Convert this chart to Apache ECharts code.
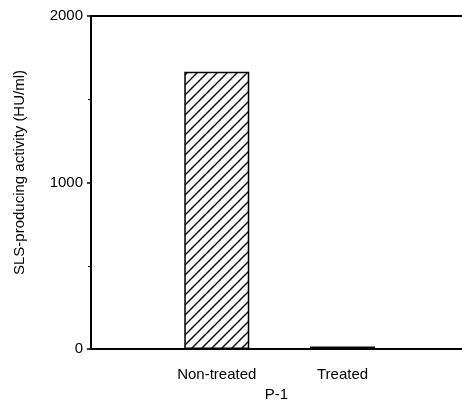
<!DOCTYPE html>
<html>
<head>
<meta charset="utf-8">
<script src="https://cdn.jsdelivr.net/npm/echarts@6/dist/echarts.min.js"></script>
<style>
  html, body { margin: 0; padding: 0; background: #fff; }
  #main { width: 462px; height: 403px; }
</style>
</head>
<body>
<div id="main"></div>
<script>
// 数据
var categories = ['Non-treated', 'Treated'];
var activity = [1665, 15];
var yTicks = [0, 1000, 2000];

var ink = '#000';
var font = 'Liberation Sans, Arial, sans-serif';

// 斜线填充
var makeHatch = function () {
    var c = document.createElement('canvas');
    c.width = 10;
    c.height = 10;
    var ctx = c.getContext('2d');
    ctx.fillStyle = '#fff';
    ctx.fillRect(0, 0, 10, 10);
    ctx.strokeStyle = ink;
    ctx.lineWidth = 1.4;
    ctx.beginPath();
    ctx.moveTo(-1, 11); ctx.lineTo(11, -1);
    ctx.moveTo(-1, 1); ctx.lineTo(1, -1);
    ctx.moveTo(9, 11); ctx.lineTo(11, 9);
    ctx.stroke();
    return c;
};

var myChart = echarts.init(document.getElementById('main'));

var option = {
    animation: false,
    backgroundColor: '#fff',
    grid: { left: 91, right: 0, top: 16, bottom: 54, outerBoundsMode: 'none' },
    xAxis: [
        {
            type: 'value',
            min: 0,
            max: 2.95,
            name: 'P-1',
            nameLocation: 'middle',
            nameGap: 38,
            nameTextStyle: { color: ink, fontSize: 15, fontFamily: font },
            splitLine: { show: false },
            axisLine: { show: true, lineStyle: { color: ink, width: 2 } },
            axisTick: { show: false },
            axisLabel: {
                customValues: [1, 2],
                margin: 18,
                color: ink,
                fontSize: 15,
                fontFamily: font,
                formatter: function (v) { return categories[Math.round(v) - 1] || ''; }
            }
        },
        {
            type: 'value',
            position: 'top',
            min: 0,
            max: 2.95,
            splitLine: { show: false },
            axisLine: { show: true, onZero: false, lineStyle: { color: ink, width: 2 } },
            axisTick: { show: false },
            axisLabel: { show: false }
        }
    ],
    yAxis: {
        type: 'value',
        min: 0,
        max: 2000,
        interval: 1000,
        name: 'SLS-producing activity (HU/ml)',
        nameLocation: 'middle',
        nameGap: 64,
        nameTextStyle: { color: ink, fontSize: 15, fontFamily: font, padding: [0, 0, 0, 20] },
        splitLine: { show: false },
        axisLine: { show: true, lineStyle: { color: ink, width: 2 } },
        axisTick: { show: true, length: 4, lineStyle: { color: ink, width: 1.5 } },
        minorTick: { show: true, splitNumber: 2, length: 3, lineStyle: { color: ink, width: 1 } },
        axisLabel: {
            margin: 8,
            color: ink,
            fontSize: 15,
            fontFamily: font,
            formatter: function (v) { return yTicks.indexOf(v) >= 0 ? String(v) : ''; }
        }
    },
    series: [
        {
            type: 'bar',
            barWidth: 65,
            data: activity.map(function (v, i) { return [i + 1, v]; }),
            itemStyle: {
                color: { image: makeHatch(), repeat: 'repeat' },
                borderColor: ink,
                borderWidth: 1.5
            }
        }
    ]
};

myChart.setOption(option);
</script>
</body>
</html>
